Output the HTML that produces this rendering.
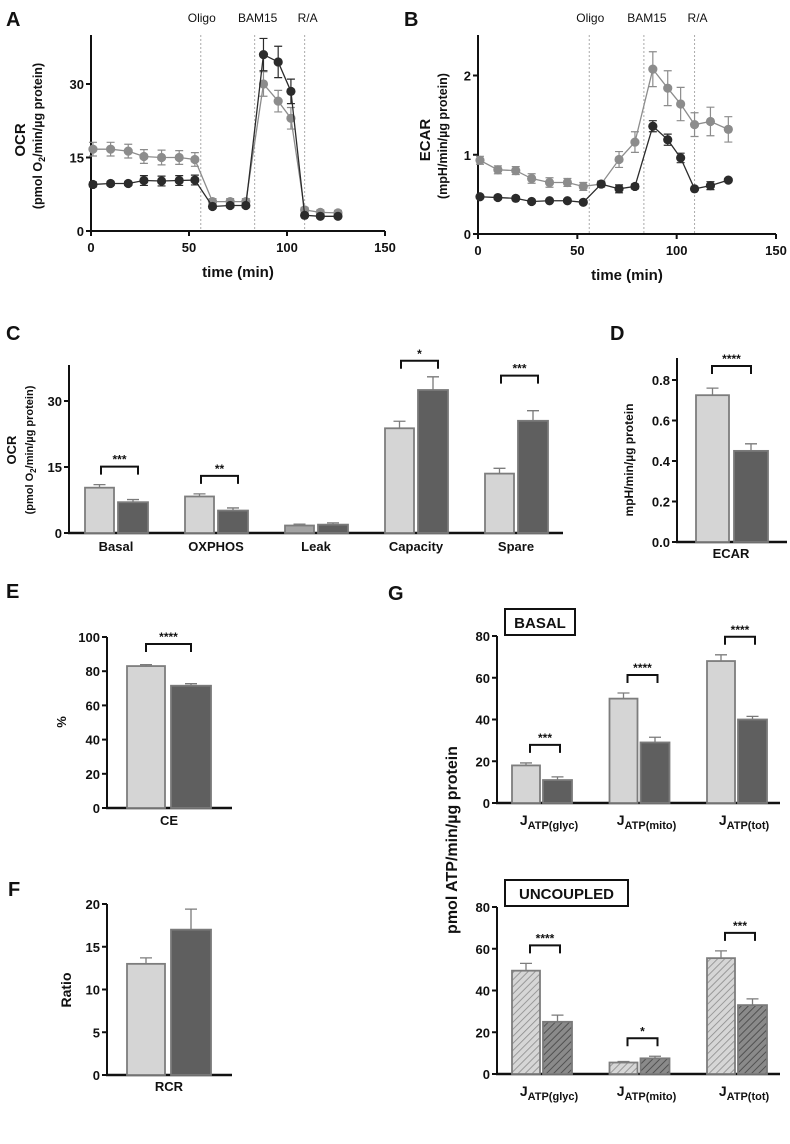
<!DOCTYPE html>
<html><head><meta charset="utf-8">
<style>
html,body{margin:0;padding:0;background:#fff;}
svg{display:block;font-family:"Liberation Sans",Arial,sans-serif;}
text{font-weight:bold;fill:#111;}
</style></head>
<body>
<svg id="fig" width="790" height="1144" viewBox="0 0 790 1144">
<defs>
<pattern id="hatchL" patternUnits="userSpaceOnUse" width="5" height="5" patternTransform="rotate(45)">
<rect width="5" height="5" fill="#d6d6d6"/><line x1="0" y1="0" x2="0" y2="5" stroke="#8a8a8a" stroke-width="1.6"/></pattern>
<pattern id="hatchD" patternUnits="userSpaceOnUse" width="5" height="5" patternTransform="rotate(45)">
<rect width="5" height="5" fill="#8a8a8a"/><line x1="0" y1="0" x2="0" y2="5" stroke="#4a4a4a" stroke-width="1.8"/></pattern>
</defs>
</svg>
<script>
// ---- Panel A/B data ----
const times = [1,10,19,27,36,45,53,62,71,79,88,95.5,102,109,117,126];
const ocrGray = [16.7,16.7,16.3,15.2,15,15,14.6,6,6,6,30,26.5,23,4.3,3.8,3.7];
const ocrGrayErr = [1.4,1.4,1.4,1.4,1.5,1.4,1.4,0.6,0.6,0.6,2.5,2.2,2.2,0.5,0.5,0.5];
const ocrBlack = [9.5,9.7,9.7,10.3,10.2,10.3,10.4,5,5.2,5.2,36,34.5,28.5,3.2,3,3];
const ocrBlackErr = [0.5,0.4,0.4,1,1,1,1,0.3,0.3,0.3,3.3,3.2,2.5,0.3,0.3,0.3];
const ecarGray = [0.93,0.81,0.80,0.70,0.65,0.65,0.60,0.63,0.94,1.16,2.08,1.84,1.64,1.38,1.42,1.32];
const ecarGrayErr = [0.05,0.05,0.05,0.06,0.06,0.05,0.05,0.04,0.1,0.13,0.22,0.22,0.21,0.15,0.18,0.16];
const ecarBlack = [0.47,0.46,0.45,0.41,0.42,0.42,0.40,0.63,0.57,0.60,1.36,1.19,0.96,0.57,0.61,0.68];
const ecarBlackErr = [0.02,0.02,0.02,0.02,0.02,0.02,0.02,0.03,0.05,0.03,0.07,0.07,0.06,0.02,0.05,0.02];
const injectTimes = [56,83.5,109];
const injectLabels = ["Oligo","BAM15","R/A"];
const timeTicks = [0,50,100,150];
const ocrTicks = [0,15,30];
const ecarTicks = [0,1,2];
// ---- Panel C ----
const cCats = ["Basal","OXPHOS","Leak","Capacity","Spare"];
const cLight = [10.3,8.3,1.7,23.8,13.5];
const cLightErr = [0.7,0.6,0.3,1.6,1.2];
const cDark = [7,5.1,1.9,32.5,25.5];
const cDarkErr = [0.6,0.6,0.4,3,2.3];
const cSig = ["***","**","","*","***"];
const cTicks = [0,15,30];
// ---- Panel D ----
const dLight = [0.725], dLightErr=[0.035], dDark=[0.45], dDarkErr=[0.035];
const dTicks = ["0.0","0.2","0.4","0.6","0.8"];
// ---- Panel E ----
const eLight=[83], eLightErr=[0.8], eDark=[71.5], eDarkErr=[1.2];
const eTicks=[0,20,40,60,80,100];
// ---- Panel F ----
const fLight=[13], fLightErr=[0.7], fDark=[17], fDarkErr=[2.4];
const fTicks=[0,5,10,15,20];
// ---- Panel G ----
const gCats=["glyc","mito","tot"];
const gBasalLight=[18,50,68], gBasalLightErr=[1.2,2.7,3];
const gBasalDark=[11,29,40], gBasalDarkErr=[1.5,2.5,1.5];
const gBasalSig=["***","****","****"];
const gUncLight=[49.5,5.5,55.5], gUncLightErr=[3.5,0.5,3.5];
const gUncDark=[25,7.5,33], gUncDarkErr=[3.2,1,3];
const gUncSig=["****","*","***"];
const gTicks=[0,20,40,60,80];

const NS="http://www.w3.org/2000/svg";
const svg=document.getElementById('fig');
function mk(tag,attrs,parent,txt){const e=document.createElementNS(NS,tag);for(const k in attrs)e.setAttribute(k,attrs[k]);if(txt!==undefined)e.textContent=txt;(parent||svg).appendChild(e);return e;}
function grp(name){const g=mk('g',{});


return g;}
function lin(s,d0,d1,r0,r1){return v=>r0+(v-d0)/(d1-d0)*(r1-r0);}

function label(x,y,t,name){const e=mk('text',{x:x,y:y,'font-size':20});e.textContent=t;

}
label(6,26,"A","panel-a-label");label(404,26,"B","panel-b-label");label(6,340,"C","panel-c-label");
label(610,340,"D","panel-d-label");label(6,598,"E","panel-e-label");label(8,896,"F","panel-f-label");label(388,600,"G","panel-g-label");

function yAxis(g,x,yTop,yBot,ticks,yS,labels){
  mk('line',{x1:x,y1:yTop,x2:x,y2:yBot,stroke:'#111','stroke-width':2},g);
  ticks.forEach((t,i)=>{const y=yS(+t);mk('line',{x1:x-5,y1:y,x2:x,y2:y,stroke:'#111','stroke-width':2},g);
    mk('text',{x:x-7,y:y+5,'font-size':13,'text-anchor':'end'},g,labels?labels[i]:t);});
}
function rotText(g,x,y,t,fs,name){const e=mk('text',{x:x,y:y,'font-size':fs,'text-anchor':'middle',transform:`rotate(-90 ${x} ${y})`},g);e.innerHTML=t;

return e;}

// ---- line panels ----
function linePanel(name,ox,x0,x150,yTop,yBot,yMax,ticks,gray,grayErr,black,blackErr,ylab,ysub){
  const g=grp(name);
  const axisTop=35;
  const xS=lin(0,0,150,x0,x150), yS=lin(0,0,yMax,yBot,yTop);
  injectTimes.forEach((t,i)=>{const x=xS(t);mk('line',{x1:x,y1:axisTop,x2:x,y2:yBot,stroke:'#aaa','stroke-width':1,'stroke-dasharray':'2,2'},g);
    mk('text',{x:x+(i==0?1:3),y:22,'font-size':12,'text-anchor':'middle',style:'font-weight:normal'},g,injectLabels[i]);});
  yAxis(g,x0,axisTop,yBot,ticks,yS);
  mk('line',{x1:x0,y1:yBot,x2:x150,y2:yBot,stroke:'#111','stroke-width':2},g);
  timeTicks.forEach(t=>{const x=xS(t);mk('line',{x1:x,y1:yBot,x2:x,y2:yBot+5,stroke:'#111','stroke-width':2},g);
    mk('text',{x:x,y:yBot+21,'font-size':13,'text-anchor':'middle'},g,t);});
  mk('text',{x:(x0+x150)/2,y:yBot+46,'font-size':15,'text-anchor':'middle'},g,'time (min)');
  [[gray,grayErr,'#8c8c8c','gray'],[black,blackErr,'#2b2b2b','black']].forEach(([v,er,c,n])=>{
    const s=grp(name+'-'+n+'-series');g.appendChild(s);
    mk('polyline',{points:times.map((t,i)=>xS(t)+','+yS(v[i])).join(' '),fill:'none',stroke:c,'stroke-width':1.3},s);
    times.forEach((t,i)=>{const x=xS(t),y1=yS(v[i]+er[i]),y2=yS(v[i]-er[i]);
      mk('path',{d:`M${x-4},${y1}H${x+4}M${x},${y1}V${y2}M${x-4},${y2}H${x+4}`,stroke:c,'stroke-width':1.2,fill:'none'},s);
      const p=mk('circle',{cx:x,cy:yS(v[i]),r:4.6,fill:c},s);
      
      });
  });
  rotText(g,ox,140,ylab,15,name+'-y-title');
  rotText(g,ox+17,136,ysub,12.5,name+'-y-subtitle');
}
linePanel('ocr-chart',25,91,385,84,231,30,ocrTicks,ocrGray,ocrGrayErr,ocrBlack,ocrBlackErr,'OCR','(pmol O<tspan font-size="9" dy="3">2</tspan><tspan dy="-3">/min/µg protein)</tspan>');
linePanel('ecar-chart',430,478,776,75.5,234,2,ecarTicks,ecarGray,ecarGrayErr,ecarBlack,ecarBlackErr,'ECAR','(mpH/min/µg protein)');

// ---- bar panels ----
function errBar(g,x,v,e,yS,c){const y1=yS(v+e);mk('path',{d:`M${x},${yS(v)}V${y1}M${x-6},${y1}H${x+6}`,stroke:c,'stroke-width':1.3,fill:'none'},g);}
function bracket(g,xa,xb,y,sig){if(!sig)return;mk('path',{d:`M${xa},${y+8}V${y}H${xb}V${y+8}`,stroke:'#111','stroke-width':2,fill:'none'},g);
  mk('text',{x:(xa+xb)/2,y:y-3,'font-size':12,'text-anchor':'middle'},g,sig);}
function bars(name,g,yS,base,xs,w,vals,errs,fill,stroke){
  vals.forEach((v,i)=>{const f=Array.isArray(fill)?fill[i]:fill;
    const r=mk('rect',{x:xs[i],y:yS(v),width:w,height:base-yS(v),fill:f,stroke:stroke,'stroke-width':1.8},g);
    
    
    errBar(g,xs[i]+w/2,v,errs[i],yS,stroke);});
}
// C
(function(){const g=grp('ocr-bar-chart');const yS=lin(0,0,15,533,467);
 yAxis(g,69,365,533,cTicks,yS);mk('line',{x1:68,y1:533,x2:563,y2:533,stroke:'#111','stroke-width':2.5},g);
 const xl=cCats.map((c,i)=>85+100*i), xd=cCats.map((c,i)=>118+100*i);
 bars('ocr-bar-light',g,yS,533,xl,29,cLight,cLightErr,cCats.map((c,i)=>i==2?'#a3a3a3':'#d5d5d5'),'#7d7d7d');
 bars('ocr-bar-dark',g,yS,533,xd,30,cDark,cDarkErr,'#5f5f5f','#7a7a7a');
 cCats.forEach((c,i)=>{mk('text',{x:116+100*i,y:551,'font-size':13,'text-anchor':'middle'},g,c);
   const top=Math.max(cLight[i]+cLightErr[i],cDark[i]+cDarkErr[i]);bracket(g,101+100*i,138+100*i,yS(top)-(i==3?16:i==4?35:18),cSig[i]);});
 rotText(g,16,450,'OCR',13,'ocr-bar-y-title');
 rotText(g,33,450,'(pmol O<tspan font-size="8" dy="3">2</tspan><tspan dy="-3">/min/µg protein)</tspan>',11,'ocr-bar-y-subtitle');
})();
// D
(function(){const g=grp('ecar-bar-chart');const yS=lin(0,0,0.8,542,380);
 yAxis(g,677,358,542,dTicks,v=>yS(v),dTicks);mk('line',{x1:676,y1:542,x2:787,y2:542,stroke:'#111','stroke-width':2.5},g);
 bars('ecar-bar-light',g,yS,542,[696],33,dLight,dLightErr,'#d5d5d5','#7d7d7d');
 bars('ecar-bar-dark',g,yS,542,[734],34,dDark,dDarkErr,'#5f5f5f','#7a7a7a');
 bracket(g,712,751,366,'****');
 mk('text',{x:731,y:558,'font-size':13,'text-anchor':'middle'},g,'ECAR');
 rotText(g,633,460,'mpH/min/µg protein',12,'ecar-bar-y-title');
})();
// E
(function(){const g=grp('ce-bar-chart');const yS=lin(0,0,100,808,637);
 yAxis(g,107,637,808,eTicks,yS);mk('line',{x1:106,y1:808,x2:232,y2:808,stroke:'#111','stroke-width':2.5},g);
 bars('ce-bar-light',g,yS,808,[127],38,eLight,eLightErr,'#d5d5d5','#7d7d7d');
 bars('ce-bar-dark',g,yS,808,[171],40,eDark,eDarkErr,'#5f5f5f','#7a7a7a');
 bracket(g,146,191,644,'****');
 mk('text',{x:169,y:825,'font-size':13,'text-anchor':'middle'},g,'CE');
 rotText(g,66,722,'%',13,'ce-y-title');
})();
// F
(function(){const g=grp('rcr-bar-chart');const yS=lin(0,0,20,1075,904);
 yAxis(g,107,904,1075,fTicks,yS);mk('line',{x1:106,y1:1075,x2:232,y2:1075,stroke:'#111','stroke-width':2.5},g);
 bars('rcr-bar-light',g,yS,1075,[127],38,fLight,fLightErr,'#d5d5d5','#7d7d7d');
 bars('rcr-bar-dark',g,yS,1075,[171],40,fDark,fDarkErr,'#5f5f5f','#7a7a7a');
 mk('text',{x:169,y:1091,'font-size':13,'text-anchor':'middle'},g,'RCR');
 rotText(g,71,990,'Ratio',14,'rcr-y-title');
})();
// G
function gPanel(name,top0,base,light,lightErr,dark,darkErr,sig,lf,df,boxX2,title){
 const g=grp(name);const yS=lin(0,0,80,base,top0);
 yAxis(g,497,top0,base,gTicks,yS);mk('line',{x1:496,y1:base,x2:780,y2:base,stroke:'#111','stroke-width':2.5},g);
 const xl=gCats.map((c,i)=>512+97.5*i), xd=gCats.map((c,i)=>543+97.5*i);
 bars(name+'-light-bar',g,yS,base,xl,28,light,lightErr,lf,'#7d7d7d');
 bars(name+'-dark-bar',g,yS,base,xd,29,dark,darkErr,df,'#7a7a7a');
 gCats.forEach((c,i)=>{const t=mk('text',{x:549+97.5*i,y:base+22,'font-size':14,'text-anchor':'middle'},g);
   t.innerHTML='J<tspan font-size="11" dy="4">ATP('+c+')</tspan>';
   const tp=Math.max(light[i]+lightErr[i],dark[i]+darkErr[i]);bracket(g,530+97.5*i,560+97.5*i,yS(tp)-18,sig[i]);});
 const b=mk('rect',{x:505,y:top0-27,width:boxX2-505,height:26,fill:'#fff',stroke:'#111','stroke-width':2},g);
 
 
 mk('text',{x:(505+boxX2)/2,y:top0-8,'font-size':15,'text-anchor':'middle'},g,title);
}
gPanel('basal',636,803,gBasalLight,gBasalLightErr,gBasalDark,gBasalDarkErr,gBasalSig,'#d5d5d5','#5f5f5f',575,'BASAL');
gPanel('uncoupled',907,1074,gUncLight,gUncLightErr,gUncDark,gUncDarkErr,gUncSig,'url(#hatchL)','url(#hatchD)',628,'UNCOUPLED');
(function(){const g=grp('atp-y-axis');rotText(g,457,840,'pmol ATP/min/µg protein',16,'atp-y-title');})();
</script>
</body></html>
